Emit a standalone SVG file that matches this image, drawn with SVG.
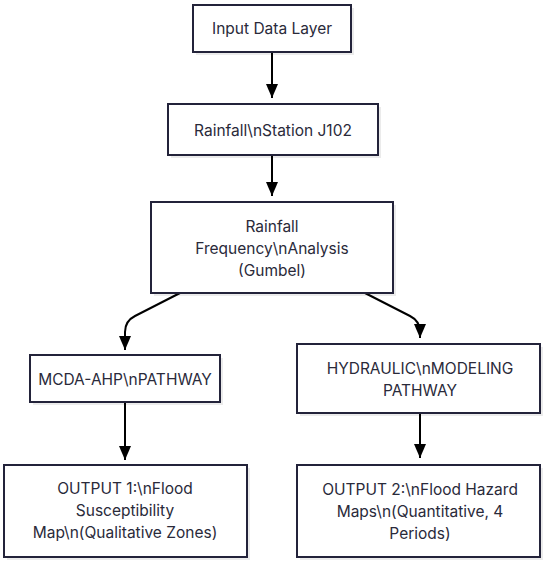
<svg xmlns="http://www.w3.org/2000/svg" width="550" height="563" viewBox="0 0 550 563">
<style>
.box{fill:#ffffff;stroke:#23233a;stroke-width:2}
.sh{fill:#000;opacity:0.08}
.t{font-family:"Inter","Liberation Sans",sans-serif;font-size:15.5px;fill:#2a2a3a;text-anchor:middle;dominant-baseline:central}
.c{fill:none;stroke:#000;stroke-width:2}
</style>
<defs>
<marker id="ah" markerUnits="userSpaceOnUse" markerWidth="14" markerHeight="12" refX="14" refY="6" orient="auto">
<path d="M0,0 L14,6 L0,12 z" fill="#000"/>
</marker>
</defs>
<rect width="550" height="563" fill="#ffffff"/>
<g id="connectors">
<path class="c" d="M272,52 L272,98" marker-end="url(#ah)"/>
<path class="c" d="M272,155 L272,196" marker-end="url(#ah)"/>
<path class="c" d="M180,293 L135,316 Q125,321 125,332 L125,350" marker-end="url(#ah)"/>
<path class="c" d="M365,293 L410,316 Q420,321 420,332 L420,338" marker-end="url(#ah)"/>
<path class="c" d="M125,402 L125,460" marker-end="url(#ah)"/>
<path class="c" d="M420,413 L420,458" marker-end="url(#ah)"/>
</g>
<g id="n1">
<rect class="sh" x="196" y="8" width="158" height="47"/>
<rect class="box" x="193" y="5" width="158" height="47"/>
<text class="t" x="272" y="28">Input Data Layer</text>
</g>
<g id="n2">
<rect class="sh" x="171" y="107" width="210" height="51"/>
<rect class="box" x="168" y="104" width="210" height="51"/>
<text class="t" x="273" y="130">Rainfall\nStation J102</text>
</g>
<g id="n3">
<rect class="sh" x="154" y="205" width="242" height="91"/>
<rect class="box" x="151" y="202" width="242" height="91"/>
<text class="t" x="272" y="226">Rainfall</text>
<text class="t" x="272" y="248">Frequency\nAnalysis</text>
<text class="t" x="272" y="270">(Gumbel)</text>
</g>
<g id="n4">
<rect class="sh" x="33" y="358" width="190" height="47"/>
<rect class="box" x="30" y="355" width="190" height="47"/>
<text class="t" x="125" y="379">MCDA-AHP\nPATHWAY</text>
</g>
<g id="n5">
<rect class="sh" x="300" y="347" width="243" height="69"/>
<rect class="box" x="297" y="344" width="243" height="69"/>
<text class="t" x="420" y="368">HYDRAULIC\nMODELING</text>
<text class="t" x="420" y="390">PATHWAY</text>
</g>
<g id="n6">
<rect class="sh" x="7" y="468" width="243" height="92"/>
<rect class="box" x="4" y="465" width="243" height="92"/>
<text class="t" x="125" y="488">OUTPUT 1:\nFlood</text>
<text class="t" x="125" y="510">Susceptibility</text>
<text class="t" x="125" y="532">Map\n(Qualitative Zones)</text>
</g>
<g id="n7">
<rect class="sh" x="300" y="468" width="243" height="92"/>
<rect class="box" x="297" y="465" width="243" height="92"/>
<text class="t" x="420" y="489">OUTPUT 2:\nFlood Hazard</text>
<text class="t" x="420" y="511">Maps\n(Quantitative, 4</text>
<text class="t" x="420" y="533">Periods)</text>
</g>
</svg>
